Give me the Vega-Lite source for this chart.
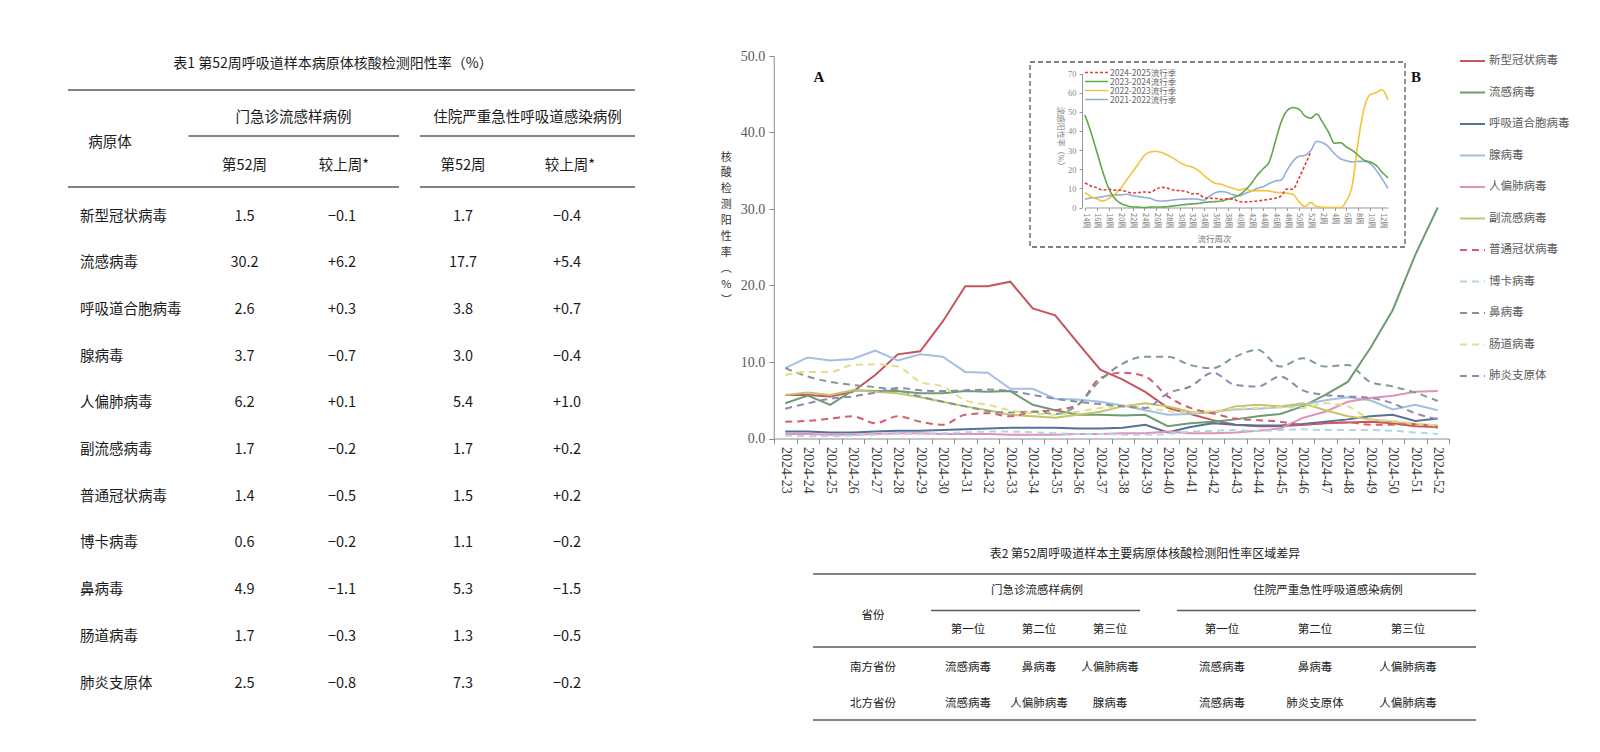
{
"$schema": "https://vega.github.io/schema/vega-lite/v6.json",
"width": 1600, "height": 752,
"autosize": {"type": "none"},
"padding": 0,
"background": "#ffffff",
"config": {"view": {"stroke": null}, "font": "Noto Sans CJK SC", "text": {"font": "Noto Sans CJK SC"}},
"datasets": {
"t1": [
{"pathogen":"新型冠状病毒","group":"门急诊流感样病例","measure":"第52周","value":"1.5"},{"pathogen":"新型冠状病毒","group":"门急诊流感样病例","measure":"较上周*","value":"−0.1"},{"pathogen":"新型冠状病毒","group":"住院严重急性呼吸道感染病例","measure":"第52周","value":"1.7"},{"pathogen":"新型冠状病毒","group":"住院严重急性呼吸道感染病例","measure":"较上周*","value":"−0.4"},
{"pathogen":"流感病毒","group":"门急诊流感样病例","measure":"第52周","value":"30.2"},{"pathogen":"流感病毒","group":"门急诊流感样病例","measure":"较上周*","value":"+6.2"},{"pathogen":"流感病毒","group":"住院严重急性呼吸道感染病例","measure":"第52周","value":"17.7"},{"pathogen":"流感病毒","group":"住院严重急性呼吸道感染病例","measure":"较上周*","value":"+5.4"},
{"pathogen":"呼吸道合胞病毒","group":"门急诊流感样病例","measure":"第52周","value":"2.6"},{"pathogen":"呼吸道合胞病毒","group":"门急诊流感样病例","measure":"较上周*","value":"+0.3"},{"pathogen":"呼吸道合胞病毒","group":"住院严重急性呼吸道感染病例","measure":"第52周","value":"3.8"},{"pathogen":"呼吸道合胞病毒","group":"住院严重急性呼吸道感染病例","measure":"较上周*","value":"+0.7"},
{"pathogen":"腺病毒","group":"门急诊流感样病例","measure":"第52周","value":"3.7"},{"pathogen":"腺病毒","group":"门急诊流感样病例","measure":"较上周*","value":"−0.7"},{"pathogen":"腺病毒","group":"住院严重急性呼吸道感染病例","measure":"第52周","value":"3.0"},{"pathogen":"腺病毒","group":"住院严重急性呼吸道感染病例","measure":"较上周*","value":"−0.4"},
{"pathogen":"人偏肺病毒","group":"门急诊流感样病例","measure":"第52周","value":"6.2"},{"pathogen":"人偏肺病毒","group":"门急诊流感样病例","measure":"较上周*","value":"+0.1"},{"pathogen":"人偏肺病毒","group":"住院严重急性呼吸道感染病例","measure":"第52周","value":"5.4"},{"pathogen":"人偏肺病毒","group":"住院严重急性呼吸道感染病例","measure":"较上周*","value":"+1.0"},
{"pathogen":"副流感病毒","group":"门急诊流感样病例","measure":"第52周","value":"1.7"},{"pathogen":"副流感病毒","group":"门急诊流感样病例","measure":"较上周*","value":"−0.2"},{"pathogen":"副流感病毒","group":"住院严重急性呼吸道感染病例","measure":"第52周","value":"1.7"},{"pathogen":"副流感病毒","group":"住院严重急性呼吸道感染病例","measure":"较上周*","value":"+0.2"},
{"pathogen":"普通冠状病毒","group":"门急诊流感样病例","measure":"第52周","value":"1.4"},{"pathogen":"普通冠状病毒","group":"门急诊流感样病例","measure":"较上周*","value":"−0.5"},{"pathogen":"普通冠状病毒","group":"住院严重急性呼吸道感染病例","measure":"第52周","value":"1.5"},{"pathogen":"普通冠状病毒","group":"住院严重急性呼吸道感染病例","measure":"较上周*","value":"+0.2"},
{"pathogen":"博卡病毒","group":"门急诊流感样病例","measure":"第52周","value":"0.6"},{"pathogen":"博卡病毒","group":"门急诊流感样病例","measure":"较上周*","value":"−0.2"},{"pathogen":"博卡病毒","group":"住院严重急性呼吸道感染病例","measure":"第52周","value":"1.1"},{"pathogen":"博卡病毒","group":"住院严重急性呼吸道感染病例","measure":"较上周*","value":"−0.2"},
{"pathogen":"鼻病毒","group":"门急诊流感样病例","measure":"第52周","value":"4.9"},{"pathogen":"鼻病毒","group":"门急诊流感样病例","measure":"较上周*","value":"−1.1"},{"pathogen":"鼻病毒","group":"住院严重急性呼吸道感染病例","measure":"第52周","value":"5.3"},{"pathogen":"鼻病毒","group":"住院严重急性呼吸道感染病例","measure":"较上周*","value":"−1.5"},
{"pathogen":"肠道病毒","group":"门急诊流感样病例","measure":"第52周","value":"1.7"},{"pathogen":"肠道病毒","group":"门急诊流感样病例","measure":"较上周*","value":"−0.3"},{"pathogen":"肠道病毒","group":"住院严重急性呼吸道感染病例","measure":"第52周","value":"1.3"},{"pathogen":"肠道病毒","group":"住院严重急性呼吸道感染病例","measure":"较上周*","value":"−0.5"},
{"pathogen":"肺炎支原体","group":"门急诊流感样病例","measure":"第52周","value":"2.5"},{"pathogen":"肺炎支原体","group":"门急诊流感样病例","measure":"较上周*","value":"−0.8"},{"pathogen":"肺炎支原体","group":"住院严重急性呼吸道感染病例","measure":"第52周","value":"7.3"},{"pathogen":"肺炎支原体","group":"住院严重急性呼吸道感染病例","measure":"较上周*","value":"−0.2"}
],
"t2": [
{"province":"南方省份","group":"门急诊流感样病例","rank":"第一位","pathogen":"流感病毒"},{"province":"南方省份","group":"门急诊流感样病例","rank":"第二位","pathogen":"鼻病毒"},{"province":"南方省份","group":"门急诊流感样病例","rank":"第三位","pathogen":"人偏肺病毒"},
{"province":"南方省份","group":"住院严重急性呼吸道感染病例","rank":"第一位","pathogen":"流感病毒"},{"province":"南方省份","group":"住院严重急性呼吸道感染病例","rank":"第二位","pathogen":"鼻病毒"},{"province":"南方省份","group":"住院严重急性呼吸道感染病例","rank":"第三位","pathogen":"人偏肺病毒"},
{"province":"北方省份","group":"门急诊流感样病例","rank":"第一位","pathogen":"流感病毒"},{"province":"北方省份","group":"门急诊流感样病例","rank":"第二位","pathogen":"人偏肺病毒"},{"province":"北方省份","group":"门急诊流感样病例","rank":"第三位","pathogen":"腺病毒"},
{"province":"北方省份","group":"住院严重急性呼吸道感染病例","rank":"第一位","pathogen":"流感病毒"},{"province":"北方省份","group":"住院严重急性呼吸道感染病例","rank":"第二位","pathogen":"肺炎支原体"},{"province":"北方省份","group":"住院严重急性呼吸道感染病例","rank":"第三位","pathogen":"人偏肺病毒"}
],
"main": [
{"week":"2024-23","pathogen":"新型冠状病毒","rate":5.7},{"week":"2024-24","pathogen":"新型冠状病毒","rate":5.7},{"week":"2024-25","pathogen":"新型冠状病毒","rate":5.5},{"week":"2024-26","pathogen":"新型冠状病毒","rate":6.1},{"week":"2024-27","pathogen":"新型冠状病毒","rate":8.3},{"week":"2024-28","pathogen":"新型冠状病毒","rate":11.0},{"week":"2024-29","pathogen":"新型冠状病毒","rate":11.4},{"week":"2024-30","pathogen":"新型冠状病毒","rate":15.3},{"week":"2024-31","pathogen":"新型冠状病毒","rate":19.9},{"week":"2024-32","pathogen":"新型冠状病毒","rate":19.9},{"week":"2024-33","pathogen":"新型冠状病毒","rate":20.5},{"week":"2024-34","pathogen":"新型冠状病毒","rate":17.0},{"week":"2024-35","pathogen":"新型冠状病毒","rate":16.1},{"week":"2024-36","pathogen":"新型冠状病毒","rate":12.5},{"week":"2024-37","pathogen":"新型冠状病毒","rate":9.0},{"week":"2024-38","pathogen":"新型冠状病毒","rate":7.7},{"week":"2024-39","pathogen":"新型冠状病毒","rate":6.1},{"week":"2024-40","pathogen":"新型冠状病毒","rate":4.0},{"week":"2024-41","pathogen":"新型冠状病毒","rate":3.2},{"week":"2024-42","pathogen":"新型冠状病毒","rate":2.4},{"week":"2024-43","pathogen":"新型冠状病毒","rate":1.8},{"week":"2024-44","pathogen":"新型冠状病毒","rate":1.6},{"week":"2024-45","pathogen":"新型冠状病毒","rate":1.6},{"week":"2024-46","pathogen":"新型冠状病毒","rate":1.8},{"week":"2024-47","pathogen":"新型冠状病毒","rate":2.0},{"week":"2024-48","pathogen":"新型冠状病毒","rate":2.1},{"week":"2024-49","pathogen":"新型冠状病毒","rate":2.2},{"week":"2024-50","pathogen":"新型冠状病毒","rate":2.0},{"week":"2024-51","pathogen":"新型冠状病毒","rate":1.6},{"week":"2024-52","pathogen":"新型冠状病毒","rate":1.5},
{"week":"2024-23","pathogen":"流感病毒","rate":4.6},{"week":"2024-24","pathogen":"流感病毒","rate":5.6},{"week":"2024-25","pathogen":"流感病毒","rate":4.4},{"week":"2024-26","pathogen":"流感病毒","rate":6.3},{"week":"2024-27","pathogen":"流感病毒","rate":6.2},{"week":"2024-28","pathogen":"流感病毒","rate":6.2},{"week":"2024-29","pathogen":"流感病毒","rate":5.9},{"week":"2024-30","pathogen":"流感病毒","rate":5.9},{"week":"2024-31","pathogen":"流感病毒","rate":6.2},{"week":"2024-32","pathogen":"流感病毒","rate":6.1},{"week":"2024-33","pathogen":"流感病毒","rate":6.2},{"week":"2024-34","pathogen":"流感病毒","rate":4.4},{"week":"2024-35","pathogen":"流感病毒","rate":3.7},{"week":"2024-36","pathogen":"流感病毒","rate":3.1},{"week":"2024-37","pathogen":"流感病毒","rate":3.1},{"week":"2024-38","pathogen":"流感病毒","rate":3.0},{"week":"2024-39","pathogen":"流感病毒","rate":3.1},{"week":"2024-40","pathogen":"流感病毒","rate":1.6},{"week":"2024-41","pathogen":"流感病毒","rate":2.0},{"week":"2024-42","pathogen":"流感病毒","rate":2.2},{"week":"2024-43","pathogen":"流感病毒","rate":2.5},{"week":"2024-44","pathogen":"流感病毒","rate":2.9},{"week":"2024-45","pathogen":"流感病毒","rate":3.2},{"week":"2024-46","pathogen":"流感病毒","rate":4.2},{"week":"2024-47","pathogen":"流感病毒","rate":5.7},{"week":"2024-48","pathogen":"流感病毒","rate":7.4},{"week":"2024-49","pathogen":"流感病毒","rate":11.8},{"week":"2024-50","pathogen":"流感病毒","rate":16.8},{"week":"2024-51","pathogen":"流感病毒","rate":24.0},{"week":"2024-52","pathogen":"流感病毒","rate":30.2},
{"week":"2024-23","pathogen":"呼吸道合胞病毒","rate":0.9},{"week":"2024-24","pathogen":"呼吸道合胞病毒","rate":0.9},{"week":"2024-25","pathogen":"呼吸道合胞病毒","rate":0.8},{"week":"2024-26","pathogen":"呼吸道合胞病毒","rate":0.8},{"week":"2024-27","pathogen":"呼吸道合胞病毒","rate":0.9},{"week":"2024-28","pathogen":"呼吸道合胞病毒","rate":1.0},{"week":"2024-29","pathogen":"呼吸道合胞病毒","rate":1.0},{"week":"2024-30","pathogen":"呼吸道合胞病毒","rate":1.1},{"week":"2024-31","pathogen":"呼吸道合胞病毒","rate":1.2},{"week":"2024-32","pathogen":"呼吸道合胞病毒","rate":1.3},{"week":"2024-33","pathogen":"呼吸道合胞病毒","rate":1.4},{"week":"2024-34","pathogen":"呼吸道合胞病毒","rate":1.4},{"week":"2024-35","pathogen":"呼吸道合胞病毒","rate":1.4},{"week":"2024-36","pathogen":"呼吸道合胞病毒","rate":1.3},{"week":"2024-37","pathogen":"呼吸道合胞病毒","rate":1.3},{"week":"2024-38","pathogen":"呼吸道合胞病毒","rate":1.4},{"week":"2024-39","pathogen":"呼吸道合胞病毒","rate":1.8},{"week":"2024-40","pathogen":"呼吸道合胞病毒","rate":0.8},{"week":"2024-41","pathogen":"呼吸道合胞病毒","rate":1.5},{"week":"2024-42","pathogen":"呼吸道合胞病毒","rate":2.0},{"week":"2024-43","pathogen":"呼吸道合胞病毒","rate":1.8},{"week":"2024-44","pathogen":"呼吸道合胞病毒","rate":1.7},{"week":"2024-45","pathogen":"呼吸道合胞病毒","rate":1.7},{"week":"2024-46","pathogen":"呼吸道合胞病毒","rate":1.9},{"week":"2024-47","pathogen":"呼吸道合胞病毒","rate":2.2},{"week":"2024-48","pathogen":"呼吸道合胞病毒","rate":2.5},{"week":"2024-49","pathogen":"呼吸道合胞病毒","rate":2.9},{"week":"2024-50","pathogen":"呼吸道合胞病毒","rate":3.1},{"week":"2024-51","pathogen":"呼吸道合胞病毒","rate":2.3},{"week":"2024-52","pathogen":"呼吸道合胞病毒","rate":2.6},
{"week":"2024-23","pathogen":"腺病毒","rate":9.2},{"week":"2024-24","pathogen":"腺病毒","rate":10.6},{"week":"2024-25","pathogen":"腺病毒","rate":10.2},{"week":"2024-26","pathogen":"腺病毒","rate":10.4},{"week":"2024-27","pathogen":"腺病毒","rate":11.5},{"week":"2024-28","pathogen":"腺病毒","rate":10.2},{"week":"2024-29","pathogen":"腺病毒","rate":11.0},{"week":"2024-30","pathogen":"腺病毒","rate":10.7},{"week":"2024-31","pathogen":"腺病毒","rate":8.7},{"week":"2024-32","pathogen":"腺病毒","rate":8.6},{"week":"2024-33","pathogen":"腺病毒","rate":6.5},{"week":"2024-34","pathogen":"腺病毒","rate":6.5},{"week":"2024-35","pathogen":"腺病毒","rate":5.2},{"week":"2024-36","pathogen":"腺病毒","rate":5.1},{"week":"2024-37","pathogen":"腺病毒","rate":4.8},{"week":"2024-38","pathogen":"腺病毒","rate":4.3},{"week":"2024-39","pathogen":"腺病毒","rate":3.7},{"week":"2024-40","pathogen":"腺病毒","rate":3.1},{"week":"2024-41","pathogen":"腺病毒","rate":3.2},{"week":"2024-42","pathogen":"腺病毒","rate":3.5},{"week":"2024-43","pathogen":"腺病毒","rate":3.8},{"week":"2024-44","pathogen":"腺病毒","rate":3.9},{"week":"2024-45","pathogen":"腺病毒","rate":4.1},{"week":"2024-46","pathogen":"腺病毒","rate":4.4},{"week":"2024-47","pathogen":"腺病毒","rate":5.0},{"week":"2024-48","pathogen":"腺病毒","rate":5.4},{"week":"2024-49","pathogen":"腺病毒","rate":5.0},{"week":"2024-50","pathogen":"腺病毒","rate":3.8},{"week":"2024-51","pathogen":"腺病毒","rate":4.4},{"week":"2024-52","pathogen":"腺病毒","rate":3.7},
{"week":"2024-23","pathogen":"人偏肺病毒","rate":0.6},{"week":"2024-24","pathogen":"人偏肺病毒","rate":0.6},{"week":"2024-25","pathogen":"人偏肺病毒","rate":0.5},{"week":"2024-26","pathogen":"人偏肺病毒","rate":0.5},{"week":"2024-27","pathogen":"人偏肺病毒","rate":0.6},{"week":"2024-28","pathogen":"人偏肺病毒","rate":0.7},{"week":"2024-29","pathogen":"人偏肺病毒","rate":0.7},{"week":"2024-30","pathogen":"人偏肺病毒","rate":0.6},{"week":"2024-31","pathogen":"人偏肺病毒","rate":0.6},{"week":"2024-32","pathogen":"人偏肺病毒","rate":0.6},{"week":"2024-33","pathogen":"人偏肺病毒","rate":0.5},{"week":"2024-34","pathogen":"人偏肺病毒","rate":0.5},{"week":"2024-35","pathogen":"人偏肺病毒","rate":0.5},{"week":"2024-36","pathogen":"人偏肺病毒","rate":0.6},{"week":"2024-37","pathogen":"人偏肺病毒","rate":0.6},{"week":"2024-38","pathogen":"人偏肺病毒","rate":0.7},{"week":"2024-39","pathogen":"人偏肺病毒","rate":0.7},{"week":"2024-40","pathogen":"人偏肺病毒","rate":0.9},{"week":"2024-41","pathogen":"人偏肺病毒","rate":0.7},{"week":"2024-42","pathogen":"人偏肺病毒","rate":0.7},{"week":"2024-43","pathogen":"人偏肺病毒","rate":0.8},{"week":"2024-44","pathogen":"人偏肺病毒","rate":1.0},{"week":"2024-45","pathogen":"人偏肺病毒","rate":1.3},{"week":"2024-46","pathogen":"人偏肺病毒","rate":2.7},{"week":"2024-47","pathogen":"人偏肺病毒","rate":3.5},{"week":"2024-48","pathogen":"人偏肺病毒","rate":4.8},{"week":"2024-49","pathogen":"人偏肺病毒","rate":5.3},{"week":"2024-50","pathogen":"人偏肺病毒","rate":5.6},{"week":"2024-51","pathogen":"人偏肺病毒","rate":6.1},{"week":"2024-52","pathogen":"人偏肺病毒","rate":6.2},
{"week":"2024-23","pathogen":"副流感病毒","rate":5.7},{"week":"2024-24","pathogen":"副流感病毒","rate":6.0},{"week":"2024-25","pathogen":"副流感病毒","rate":5.7},{"week":"2024-26","pathogen":"副流感病毒","rate":6.3},{"week":"2024-27","pathogen":"副流感病毒","rate":6.1},{"week":"2024-28","pathogen":"副流感病毒","rate":5.9},{"week":"2024-29","pathogen":"副流感病毒","rate":5.4},{"week":"2024-30","pathogen":"副流感病毒","rate":4.8},{"week":"2024-31","pathogen":"副流感病毒","rate":4.2},{"week":"2024-32","pathogen":"副流感病毒","rate":3.7},{"week":"2024-33","pathogen":"副流感病毒","rate":3.1},{"week":"2024-34","pathogen":"副流感病毒","rate":2.9},{"week":"2024-35","pathogen":"副流感病毒","rate":2.7},{"week":"2024-36","pathogen":"副流感病毒","rate":3.1},{"week":"2024-37","pathogen":"副流感病毒","rate":3.5},{"week":"2024-38","pathogen":"副流感病毒","rate":4.2},{"week":"2024-39","pathogen":"副流感病毒","rate":4.6},{"week":"2024-40","pathogen":"副流感病毒","rate":4.2},{"week":"2024-41","pathogen":"副流感病毒","rate":3.5},{"week":"2024-42","pathogen":"副流感病毒","rate":3.3},{"week":"2024-43","pathogen":"副流感病毒","rate":4.2},{"week":"2024-44","pathogen":"副流感病毒","rate":4.4},{"week":"2024-45","pathogen":"副流感病毒","rate":4.2},{"week":"2024-46","pathogen":"副流感病毒","rate":4.6},{"week":"2024-47","pathogen":"副流感病毒","rate":3.7},{"week":"2024-48","pathogen":"副流感病毒","rate":2.9},{"week":"2024-49","pathogen":"副流感病毒","rate":2.5},{"week":"2024-50","pathogen":"副流感病毒","rate":2.2},{"week":"2024-51","pathogen":"副流感病毒","rate":1.9},{"week":"2024-52","pathogen":"副流感病毒","rate":1.7},
{"week":"2024-23","pathogen":"普通冠状病毒","rate":2.2},{"week":"2024-24","pathogen":"普通冠状病毒","rate":2.3},{"week":"2024-25","pathogen":"普通冠状病毒","rate":2.6},{"week":"2024-26","pathogen":"普通冠状病毒","rate":2.9},{"week":"2024-27","pathogen":"普通冠状病毒","rate":2.0},{"week":"2024-28","pathogen":"普通冠状病毒","rate":2.9},{"week":"2024-29","pathogen":"普通冠状病毒","rate":2.2},{"week":"2024-30","pathogen":"普通冠状病毒","rate":1.8},{"week":"2024-31","pathogen":"普通冠状病毒","rate":3.1},{"week":"2024-32","pathogen":"普通冠状病毒","rate":3.3},{"week":"2024-33","pathogen":"普通冠状病毒","rate":2.9},{"week":"2024-34","pathogen":"普通冠状病毒","rate":3.5},{"week":"2024-35","pathogen":"普通冠状病毒","rate":3.7},{"week":"2024-36","pathogen":"普通冠状病毒","rate":4.4},{"week":"2024-37","pathogen":"普通冠状病毒","rate":7.9},{"week":"2024-38","pathogen":"普通冠状病毒","rate":8.6},{"week":"2024-39","pathogen":"普通冠状病毒","rate":8.1},{"week":"2024-40","pathogen":"普通冠状病毒","rate":5.5},{"week":"2024-41","pathogen":"普通冠状病毒","rate":4.0},{"week":"2024-42","pathogen":"普通冠状病毒","rate":3.3},{"week":"2024-43","pathogen":"普通冠状病毒","rate":2.6},{"week":"2024-44","pathogen":"普通冠状病毒","rate":2.4},{"week":"2024-45","pathogen":"普通冠状病毒","rate":2.2},{"week":"2024-46","pathogen":"普通冠状病毒","rate":1.8},{"week":"2024-47","pathogen":"普通冠状病毒","rate":2.0},{"week":"2024-48","pathogen":"普通冠状病毒","rate":2.1},{"week":"2024-49","pathogen":"普通冠状病毒","rate":1.8},{"week":"2024-50","pathogen":"普通冠状病毒","rate":1.8},{"week":"2024-51","pathogen":"普通冠状病毒","rate":1.9},{"week":"2024-52","pathogen":"普通冠状病毒","rate":1.4},
{"week":"2024-23","pathogen":"博卡病毒","rate":0.4},{"week":"2024-24","pathogen":"博卡病毒","rate":0.3},{"week":"2024-25","pathogen":"博卡病毒","rate":0.3},{"week":"2024-26","pathogen":"博卡病毒","rate":0.4},{"week":"2024-27","pathogen":"博卡病毒","rate":0.5},{"week":"2024-28","pathogen":"博卡病毒","rate":0.6},{"week":"2024-29","pathogen":"博卡病毒","rate":0.6},{"week":"2024-30","pathogen":"博卡病毒","rate":0.7},{"week":"2024-31","pathogen":"博卡病毒","rate":0.8},{"week":"2024-32","pathogen":"博卡病毒","rate":0.9},{"week":"2024-33","pathogen":"博卡病毒","rate":0.9},{"week":"2024-34","pathogen":"博卡病毒","rate":0.8},{"week":"2024-35","pathogen":"博卡病毒","rate":0.7},{"week":"2024-36","pathogen":"博卡病毒","rate":0.6},{"week":"2024-37","pathogen":"博卡病毒","rate":0.6},{"week":"2024-38","pathogen":"博卡病毒","rate":0.5},{"week":"2024-39","pathogen":"博卡病毒","rate":0.5},{"week":"2024-40","pathogen":"博卡病毒","rate":0.6},{"week":"2024-41","pathogen":"博卡病毒","rate":0.9},{"week":"2024-42","pathogen":"博卡病毒","rate":1.0},{"week":"2024-43","pathogen":"博卡病毒","rate":1.1},{"week":"2024-44","pathogen":"博卡病毒","rate":1.0},{"week":"2024-45","pathogen":"博卡病毒","rate":1.1},{"week":"2024-46","pathogen":"博卡病毒","rate":1.2},{"week":"2024-47","pathogen":"博卡病毒","rate":1.1},{"week":"2024-48","pathogen":"博卡病毒","rate":1.1},{"week":"2024-49","pathogen":"博卡病毒","rate":1.1},{"week":"2024-50","pathogen":"博卡病毒","rate":1.0},{"week":"2024-51","pathogen":"博卡病毒","rate":0.8},{"week":"2024-52","pathogen":"博卡病毒","rate":0.6},
{"week":"2024-23","pathogen":"鼻病毒","rate":9.2},{"week":"2024-24","pathogen":"鼻病毒","rate":8.1},{"week":"2024-25","pathogen":"鼻病毒","rate":7.4},{"week":"2024-26","pathogen":"鼻病毒","rate":7.0},{"week":"2024-27","pathogen":"鼻病毒","rate":6.7},{"week":"2024-28","pathogen":"鼻病毒","rate":6.3},{"week":"2024-29","pathogen":"鼻病毒","rate":5.5},{"week":"2024-30","pathogen":"鼻病毒","rate":4.8},{"week":"2024-31","pathogen":"鼻病毒","rate":4.2},{"week":"2024-32","pathogen":"鼻病毒","rate":3.6},{"week":"2024-33","pathogen":"鼻病毒","rate":3.4},{"week":"2024-34","pathogen":"鼻病毒","rate":3.5},{"week":"2024-35","pathogen":"鼻病毒","rate":3.2},{"week":"2024-36","pathogen":"鼻病毒","rate":4.4},{"week":"2024-37","pathogen":"鼻病毒","rate":7.6},{"week":"2024-38","pathogen":"鼻病毒","rate":9.8},{"week":"2024-39","pathogen":"鼻病毒","rate":10.7},{"week":"2024-40","pathogen":"鼻病毒","rate":10.7},{"week":"2024-41","pathogen":"鼻病毒","rate":9.6},{"week":"2024-42","pathogen":"鼻病毒","rate":9.2},{"week":"2024-43","pathogen":"鼻病毒","rate":10.7},{"week":"2024-44","pathogen":"鼻病毒","rate":11.6},{"week":"2024-45","pathogen":"鼻病毒","rate":9.4},{"week":"2024-46","pathogen":"鼻病毒","rate":10.5},{"week":"2024-47","pathogen":"鼻病毒","rate":9.4},{"week":"2024-48","pathogen":"鼻病毒","rate":9.6},{"week":"2024-49","pathogen":"鼻病毒","rate":7.4},{"week":"2024-50","pathogen":"鼻病毒","rate":6.8},{"week":"2024-51","pathogen":"鼻病毒","rate":6.0},{"week":"2024-52","pathogen":"鼻病毒","rate":4.9},
{"week":"2024-23","pathogen":"肠道病毒","rate":8.3},{"week":"2024-24","pathogen":"肠道病毒","rate":8.7},{"week":"2024-25","pathogen":"肠道病毒","rate":8.7},{"week":"2024-26","pathogen":"肠道病毒","rate":9.6},{"week":"2024-27","pathogen":"肠道病毒","rate":9.7},{"week":"2024-28","pathogen":"肠道病毒","rate":9.4},{"week":"2024-29","pathogen":"肠道病毒","rate":7.4},{"week":"2024-30","pathogen":"肠道病毒","rate":6.8},{"week":"2024-31","pathogen":"肠道病毒","rate":5.0},{"week":"2024-32","pathogen":"肠道病毒","rate":4.4},{"week":"2024-33","pathogen":"肠道病毒","rate":3.7},{"week":"2024-34","pathogen":"肠道病毒","rate":3.3},{"week":"2024-35","pathogen":"肠道病毒","rate":3.1},{"week":"2024-36","pathogen":"肠道病毒","rate":3.5},{"week":"2024-37","pathogen":"肠道病毒","rate":4.0},{"week":"2024-38","pathogen":"肠道病毒","rate":4.2},{"week":"2024-39","pathogen":"肠道病毒","rate":4.0},{"week":"2024-40","pathogen":"肠道病毒","rate":3.6},{"week":"2024-41","pathogen":"肠道病毒","rate":3.4},{"week":"2024-42","pathogen":"肠道病毒","rate":3.6},{"week":"2024-43","pathogen":"肠道病毒","rate":3.9},{"week":"2024-44","pathogen":"肠道病毒","rate":4.0},{"week":"2024-45","pathogen":"肠道病毒","rate":4.1},{"week":"2024-46","pathogen":"肠道病毒","rate":4.0},{"week":"2024-47","pathogen":"肠道病毒","rate":4.6},{"week":"2024-48","pathogen":"肠道病毒","rate":4.2},{"week":"2024-49","pathogen":"肠道病毒","rate":2.6},{"week":"2024-50","pathogen":"肠道病毒","rate":2.3},{"week":"2024-51","pathogen":"肠道病毒","rate":2.0},{"week":"2024-52","pathogen":"肠道病毒","rate":1.7},
{"week":"2024-23","pathogen":"肺炎支原体","rate":3.9},{"week":"2024-24","pathogen":"肺炎支原体","rate":4.6},{"week":"2024-25","pathogen":"肺炎支原体","rate":5.2},{"week":"2024-26","pathogen":"肺炎支原体","rate":5.5},{"week":"2024-27","pathogen":"肺炎支原体","rate":6.0},{"week":"2024-28","pathogen":"肺炎支原体","rate":6.6},{"week":"2024-29","pathogen":"肺炎支原体","rate":6.3},{"week":"2024-30","pathogen":"肺炎支原体","rate":6.2},{"week":"2024-31","pathogen":"肺炎支原体","rate":6.3},{"week":"2024-32","pathogen":"肺炎支原体","rate":6.4},{"week":"2024-33","pathogen":"肺炎支原体","rate":6.2},{"week":"2024-34","pathogen":"肺炎支原体","rate":5.7},{"week":"2024-35","pathogen":"肺炎支原体","rate":5.2},{"week":"2024-36","pathogen":"肺炎支原体","rate":4.8},{"week":"2024-37","pathogen":"肺炎支原体","rate":4.5},{"week":"2024-38","pathogen":"肺炎支原体","rate":4.2},{"week":"2024-39","pathogen":"肺炎支原体","rate":4.0},{"week":"2024-40","pathogen":"肺炎支原体","rate":5.9},{"week":"2024-41","pathogen":"肺炎支原体","rate":6.8},{"week":"2024-42","pathogen":"肺炎支原体","rate":8.6},{"week":"2024-43","pathogen":"肺炎支原体","rate":7.0},{"week":"2024-44","pathogen":"肺炎支原体","rate":6.8},{"week":"2024-45","pathogen":"肺炎支原体","rate":8.1},{"week":"2024-46","pathogen":"肺炎支原体","rate":6.3},{"week":"2024-47","pathogen":"肺炎支原体","rate":5.7},{"week":"2024-48","pathogen":"肺炎支原体","rate":5.5},{"week":"2024-49","pathogen":"肺炎支原体","rate":5.3},{"week":"2024-50","pathogen":"肺炎支原体","rate":4.6},{"week":"2024-51","pathogen":"肺炎支原体","rate":3.3},{"week":"2024-52","pathogen":"肺炎支原体","rate":2.5}
],
"inset": [
{"week":"14周","season":"2021-2022流行季","rate":4.3},{"week":"15周","season":"2021-2022流行季","rate":5.0},{"week":"16周","season":"2021-2022流行季","rate":5.2},{"week":"17周","season":"2021-2022流行季","rate":5.7},{"week":"18周","season":"2021-2022流行季","rate":6.2},{"week":"19周","season":"2021-2022流行季","rate":6.6},{"week":"20周","season":"2021-2022流行季","rate":6.6},{"week":"21周","season":"2021-2022流行季","rate":6.9},{"week":"22周","season":"2021-2022流行季","rate":6.2},{"week":"23周","season":"2021-2022流行季","rate":5.7},{"week":"24周","season":"2021-2022流行季","rate":5.2},{"week":"25周","season":"2021-2022流行季","rate":4.8},{"week":"26周","season":"2021-2022流行季","rate":3.6},{"week":"27周","season":"2021-2022流行季","rate":3.4},{"week":"28周","season":"2021-2022流行季","rate":3.6},{"week":"29周","season":"2021-2022流行季","rate":4.0},{"week":"30周","season":"2021-2022流行季","rate":4.3},{"week":"31周","season":"2021-2022流行季","rate":4.4},{"week":"32周","season":"2021-2022流行季","rate":4.5},{"week":"33周","season":"2021-2022流行季","rate":4.3},{"week":"34周","season":"2021-2022流行季","rate":3.8},{"week":"35周","season":"2021-2022流行季","rate":6.0},{"week":"36周","season":"2021-2022流行季","rate":7.8},{"week":"37周","season":"2021-2022流行季","rate":8.3},{"week":"38周","season":"2021-2022流行季","rate":7.8},{"week":"39周","season":"2021-2022流行季","rate":6.6},{"week":"40周","season":"2021-2022流行季","rate":6.2},{"week":"41周","season":"2021-2022流行季","rate":7.4},{"week":"42周","season":"2021-2022流行季","rate":8.6},{"week":"43周","season":"2021-2022流行季","rate":10.0},{"week":"44周","season":"2021-2022流行季","rate":10.9},{"week":"45周","season":"2021-2022流行季","rate":12.5},{"week":"46周","season":"2021-2022流行季","rate":13.8},{"week":"47周","season":"2021-2022流行季","rate":14.3},{"week":"48周","season":"2021-2022流行季","rate":19.5},{"week":"49周","season":"2021-2022流行季","rate":24.1},{"week":"50周","season":"2021-2022流行季","rate":26.7},{"week":"51周","season":"2021-2022流行季","rate":27.2},{"week":"52周","season":"2021-2022流行季","rate":29.8},{"week":"1周","season":"2021-2022流行季","rate":34.5},{"week":"2周","season":"2021-2022流行季","rate":33.8},{"week":"3周","season":"2021-2022流行季","rate":31.6},{"week":"4周","season":"2021-2022流行季","rate":28.1},{"week":"5周","season":"2021-2022流行季","rate":25.5},{"week":"6周","season":"2021-2022流行季","rate":24.5},{"week":"7周","season":"2021-2022流行季","rate":23.8},{"week":"8周","season":"2021-2022流行季","rate":24.1},{"week":"9周","season":"2021-2022流行季","rate":24.1},{"week":"10周","season":"2021-2022流行季","rate":22.9},{"week":"11周","season":"2021-2022流行季","rate":19.5},{"week":"12周","season":"2021-2022流行季","rate":15.0},{"week":"13周","season":"2021-2022流行季","rate":10.0},
{"week":"14周","season":"2022-2023流行季","rate":7.9},{"week":"15周","season":"2022-2023流行季","rate":5.7},{"week":"16周","season":"2022-2023流行季","rate":4.5},{"week":"17周","season":"2022-2023流行季","rate":3.4},{"week":"18周","season":"2022-2023流行季","rate":4.8},{"week":"19周","season":"2022-2023流行季","rate":6.9},{"week":"20周","season":"2022-2023流行季","rate":10.0},{"week":"21周","season":"2022-2023流行季","rate":14.3},{"week":"22周","season":"2022-2023流行季","rate":18.6},{"week":"23周","season":"2022-2023流行季","rate":22.9},{"week":"24周","season":"2022-2023流行季","rate":27.2},{"week":"25周","season":"2022-2023流行季","rate":29.0},{"week":"26周","season":"2022-2023流行季","rate":29.3},{"week":"27周","season":"2022-2023流行季","rate":28.6},{"week":"28周","season":"2022-2023流行季","rate":27.2},{"week":"29周","season":"2022-2023流行季","rate":25.5},{"week":"30周","season":"2022-2023流行季","rate":23.4},{"week":"31周","season":"2022-2023流行季","rate":22.0},{"week":"32周","season":"2022-2023流行季","rate":21.2},{"week":"33周","season":"2022-2023流行季","rate":19.5},{"week":"34周","season":"2022-2023流行季","rate":16.9},{"week":"35周","season":"2022-2023流行季","rate":14.3},{"week":"36周","season":"2022-2023流行季","rate":12.6},{"week":"37周","season":"2022-2023流行季","rate":12.1},{"week":"38周","season":"2022-2023流行季","rate":10.9},{"week":"39周","season":"2022-2023流行季","rate":10.0},{"week":"40周","season":"2022-2023流行季","rate":9.1},{"week":"41周","season":"2022-2023流行季","rate":10.0},{"week":"42周","season":"2022-2023流行季","rate":8.6},{"week":"43周","season":"2022-2023流行季","rate":8.8},{"week":"44周","season":"2022-2023流行季","rate":8.8},{"week":"45周","season":"2022-2023流行季","rate":8.6},{"week":"46周","season":"2022-2023流行季","rate":8.0},{"week":"47周","season":"2022-2023流行季","rate":7.8},{"week":"48周","season":"2022-2023流行季","rate":7.5},{"week":"49周","season":"2022-2023流行季","rate":6.9},{"week":"50周","season":"2022-2023流行季","rate":3.1},{"week":"51周","season":"2022-2023流行季","rate":0.5},{"week":"52周","season":"2022-2023流行季","rate":2.6},{"week":"1周","season":"2022-2023流行季","rate":0.5},{"week":"2周","season":"2022-2023流行季","rate":0.2},{"week":"3周","season":"2022-2023流行季","rate":0.0},{"week":"4周","season":"2022-2023流行季","rate":0.0},{"week":"5周","season":"2022-2023流行季","rate":0.0},{"week":"6周","season":"2022-2023流行季","rate":3.5},{"week":"7周","season":"2022-2023流行季","rate":12.0},{"week":"8周","season":"2022-2023流行季","rate":35.0},{"week":"9周","season":"2022-2023流行季","rate":52.0},{"week":"10周","season":"2022-2023流行季","rate":59.0},{"week":"11周","season":"2022-2023流行季","rate":60.0},{"week":"12周","season":"2022-2023流行季","rate":61.5},{"week":"13周","season":"2022-2023流行季","rate":56.0},
{"week":"14周","season":"2023-2024流行季","rate":48.3},{"week":"15周","season":"2023-2024流行季","rate":39.3},{"week":"16周","season":"2023-2024流行季","rate":29.0},{"week":"17周","season":"2023-2024流行季","rate":18.6},{"week":"18周","season":"2023-2024流行季","rate":10.0},{"week":"19周","season":"2023-2024流行季","rate":4.8},{"week":"20周","season":"2023-2024流行季","rate":2.2},{"week":"21周","season":"2023-2024流行季","rate":1.0},{"week":"22周","season":"2023-2024流行季","rate":0.3},{"week":"23周","season":"2023-2024流行季","rate":0.2},{"week":"24周","season":"2023-2024流行季","rate":0.0},{"week":"25周","season":"2023-2024流行季","rate":0.2},{"week":"26周","season":"2023-2024流行季","rate":0.3},{"week":"27周","season":"2023-2024流行季","rate":0.3},{"week":"28周","season":"2023-2024流行季","rate":0.5},{"week":"29周","season":"2023-2024流行季","rate":0.9},{"week":"30周","season":"2023-2024流行季","rate":1.2},{"week":"31周","season":"2023-2024流行季","rate":1.6},{"week":"32周","season":"2023-2024流行季","rate":1.9},{"week":"33周","season":"2023-2024流行季","rate":2.1},{"week":"34周","season":"2023-2024流行季","rate":2.6},{"week":"35周","season":"2023-2024流行季","rate":2.9},{"week":"36周","season":"2023-2024流行季","rate":3.1},{"week":"37周","season":"2023-2024流行季","rate":3.4},{"week":"38周","season":"2023-2024流行季","rate":4.3},{"week":"39周","season":"2023-2024流行季","rate":5.2},{"week":"40周","season":"2023-2024流行季","rate":6.6},{"week":"41周","season":"2023-2024流行季","rate":9.1},{"week":"42周","season":"2023-2024流行季","rate":12.6},{"week":"43周","season":"2023-2024流行季","rate":16.9},{"week":"44周","season":"2023-2024流行季","rate":20.3},{"week":"45周","season":"2023-2024流行季","rate":23.8},{"week":"46周","season":"2023-2024流行季","rate":34.0},{"week":"47周","season":"2023-2024流行季","rate":44.5},{"week":"48周","season":"2023-2024流行季","rate":50.5},{"week":"49周","season":"2023-2024流行季","rate":52.2},{"week":"50周","season":"2023-2024流行季","rate":51.4},{"week":"51周","season":"2023-2024流行季","rate":47.9},{"week":"52周","season":"2023-2024流行季","rate":46.7},{"week":"1周","season":"2023-2024流行季","rate":48.8},{"week":"2周","season":"2023-2024流行季","rate":44.5},{"week":"3周","season":"2023-2024流行季","rate":39.3},{"week":"4周","season":"2023-2024流行季","rate":33.6},{"week":"5周","season":"2023-2024流行季","rate":33.8},{"week":"6周","season":"2023-2024流行季","rate":31.6},{"week":"7周","season":"2023-2024流行季","rate":29.8},{"week":"8周","season":"2023-2024流行季","rate":27.2},{"week":"9周","season":"2023-2024流行季","rate":24.7},{"week":"10周","season":"2023-2024流行季","rate":23.8},{"week":"11周","season":"2023-2024流行季","rate":22.0},{"week":"12周","season":"2023-2024流行季","rate":18.5},{"week":"13周","season":"2023-2024流行季","rate":15.5},
{"week":"14周","season":"2024-2025流行季","rate":12.9},{"week":"15周","season":"2024-2025流行季","rate":11.2},{"week":"16周","season":"2024-2025流行季","rate":10.3},{"week":"17周","season":"2024-2025流行季","rate":9.1},{"week":"18周","season":"2024-2025流行季","rate":9.5},{"week":"19周","season":"2024-2025流行季","rate":9.1},{"week":"20周","season":"2024-2025流行季","rate":9.0},{"week":"21周","season":"2024-2025流行季","rate":8.3},{"week":"22周","season":"2024-2025流行季","rate":7.6},{"week":"23周","season":"2024-2025流行季","rate":7.8},{"week":"24周","season":"2024-2025流行季","rate":8.1},{"week":"25周","season":"2024-2025流行季","rate":7.9},{"week":"26周","season":"2024-2025流行季","rate":9.7},{"week":"27周","season":"2024-2025流行季","rate":10.5},{"week":"28周","season":"2024-2025流行季","rate":10.0},{"week":"29周","season":"2024-2025流行季","rate":9.1},{"week":"30周","season":"2024-2025流行季","rate":8.8},{"week":"31周","season":"2024-2025流行季","rate":8.4},{"week":"32周","season":"2024-2025流行季","rate":7.2},{"week":"33周","season":"2024-2025流行季","rate":7.2},{"week":"34周","season":"2024-2025流行季","rate":5.3},{"week":"35周","season":"2024-2025流行季","rate":4.8},{"week":"36周","season":"2024-2025流行季","rate":4.7},{"week":"37周","season":"2024-2025流行季","rate":4.3},{"week":"38周","season":"2024-2025流行季","rate":4.5},{"week":"39周","season":"2024-2025流行季","rate":4.3},{"week":"40周","season":"2024-2025流行季","rate":3.1},{"week":"41周","season":"2024-2025流行季","rate":2.9},{"week":"42周","season":"2024-2025流行季","rate":3.1},{"week":"43周","season":"2024-2025流行季","rate":3.4},{"week":"44周","season":"2024-2025流行季","rate":3.8},{"week":"45周","season":"2024-2025流行季","rate":4.3},{"week":"46周","season":"2024-2025流行季","rate":4.8},{"week":"47周","season":"2024-2025流行季","rate":6.0},{"week":"48周","season":"2024-2025流行季","rate":9.7},{"week":"49周","season":"2024-2025流行季","rate":9.5},{"week":"50周","season":"2024-2025流行季","rate":15.2},{"week":"51周","season":"2024-2025流行季","rate":22.0},{"week":"52周","season":"2024-2025流行季","rate":29.0}
]
},
"layer": [
{"data": {"values": [{"title": "表1 第52周呼吸道样本病原体核酸检测阳性率（%）", "level": "title"}]},
 "mark": {"type": "text", "fontSize": 14, "color": "#1a1a1a", "align": "center", "baseline": "middle"},
 "encoding": {"x": {"field": "title", "type": "nominal", "scale": {"type": "point", "range": [333, 333]}, "axis": null},
  "y": {"field": "level", "type": "nominal", "scale": {"type": "point", "domain": ["title"], "range": [63.5, 63.5]}, "axis": null},
  "text": {"field": "title"}}},
{"data": {"name": "t1"}, "transform": [{"aggregate": [{"op": "count", "as": "n"}], "groupby": ["group"]}],
 "mark": {"type": "text", "fontSize": 14.5, "color": "#1a1a1a", "align": "center", "baseline": "middle"},
 "encoding": {"x": {"field": "group", "type": "nominal", "scale": {"type": "point", "padding": 0, "domain": ["门急诊流感样病例","住院严重急性呼吸道感染病例"], "range": [293.5, 527.5]}, "axis": null},
  "y": {"datum": "group", "type": "nominal", "scale": {"type": "point", "domain": ["group"], "range": [117.5, 117.5]}, "axis": null},
  "text": {"field": "group"}}},
{"data": {"values": [{"header": "病原体"}]},
 "mark": {"type": "text", "fontSize": 14.5, "color": "#1a1a1a", "align": "center", "baseline": "middle"},
 "encoding": {"x": {"field": "header", "type": "nominal", "scale": {"type": "point", "range": [110, 110]}, "axis": null},
  "y": {"datum": "head", "type": "nominal", "scale": {"type": "point", "domain": ["head"], "range": [143, 143]}, "axis": null},
  "text": {"field": "header"}}},
{"data": {"name": "t1"}, "transform": [{"aggregate": [{"op": "count", "as": "n"}], "groupby": ["pathogen"]}],
 "mark": {"type": "text", "fontSize": 14.5, "color": "#1a1a1a", "align": "left", "baseline": "middle"},
 "encoding": {"x": {"datum": "病原体", "type": "nominal", "scale": {"type": "point", "range": [80, 80]}, "axis": null},
  "y": {"field": "pathogen", "type": "nominal", "scale": {"type": "point", "padding": 0, "domain": ["新型冠状病毒","流感病毒","呼吸道合胞病毒","腺病毒","人偏肺病毒","副流感病毒","普通冠状病毒","博卡病毒","鼻病毒","肠道病毒","肺炎支原体"], "range": [216.5, 683.5]}, "axis": null},
  "text": {"field": "pathogen"}}},
{"data": {"name": "t1"}, "transform": [{"filter": "datum.group === '门急诊流感样病例'"}, {"aggregate": [{"op": "count", "as": "n"}], "groupby": ["measure"]}],
 "mark": {"type": "text", "fontSize": 14.5, "color": "#1a1a1a", "align": "center", "baseline": "middle"},
 "encoding": {"x": {"field": "measure", "type": "nominal", "scale": {"type": "point", "padding": 0, "domain": ["第52周","较上周*"], "range": [244.5, 344]}, "axis": null},
  "y": {"datum": "sub", "type": "nominal", "scale": {"type": "point", "domain": ["sub"], "range": [165.5, 165.5]}, "axis": null},
  "text": {"field": "measure"}}},
{"data": {"name": "t1"}, "transform": [{"filter": "datum.group === '门急诊流感样病例'"}],
 "mark": {"type": "text", "fontSize": 14.5, "color": "#1a1a1a", "align": "center", "baseline": "middle"},
 "encoding": {"x": {"field": "measure", "type": "nominal", "scale": {"type": "point", "padding": 0, "domain": ["第52周","较上周*"], "range": [244.5, 342]}, "axis": null},
  "y": {"field": "pathogen", "type": "nominal", "scale": {"type": "point", "padding": 0, "domain": ["新型冠状病毒","流感病毒","呼吸道合胞病毒","腺病毒","人偏肺病毒","副流感病毒","普通冠状病毒","博卡病毒","鼻病毒","肠道病毒","肺炎支原体"], "range": [216.5, 683.5]}, "axis": null},
  "text": {"field": "value"}}},
{"data": {"name": "t1"}, "transform": [{"filter": "datum.group === '住院严重急性呼吸道感染病例'"}, {"aggregate": [{"op": "count", "as": "n"}], "groupby": ["measure"]}],
 "mark": {"type": "text", "fontSize": 14.5, "color": "#1a1a1a", "align": "center", "baseline": "middle"},
 "encoding": {"x": {"field": "measure", "type": "nominal", "scale": {"type": "point", "padding": 0, "domain": ["第52周","较上周*"], "range": [463, 570]}, "axis": null},
  "y": {"datum": "sub", "type": "nominal", "scale": {"type": "point", "domain": ["sub"], "range": [165.5, 165.5]}, "axis": null},
  "text": {"field": "measure"}}},
{"data": {"name": "t1"}, "transform": [{"filter": "datum.group === '住院严重急性呼吸道感染病例'"}],
 "mark": {"type": "text", "fontSize": 14.5, "color": "#1a1a1a", "align": "center", "baseline": "middle"},
 "encoding": {"x": {"field": "measure", "type": "nominal", "scale": {"type": "point", "padding": 0, "domain": ["第52周","较上周*"], "range": [463, 567]}, "axis": null},
  "y": {"field": "pathogen", "type": "nominal", "scale": {"type": "point", "padding": 0, "domain": ["新型冠状病毒","流感病毒","呼吸道合胞病毒","腺病毒","人偏肺病毒","副流感病毒","普通冠状病毒","博卡病毒","鼻病毒","肠道病毒","肺炎支原体"], "range": [216.5, 683.5]}, "axis": null},
  "text": {"field": "value"}}},
{"data": {"values": [{"line": "top"}]},
 "mark": {"type": "rule", "stroke": "#5a5a5a", "strokeWidth": 1.6},
 "encoding": {"x": {"datum": 0, "type": "quantitative", "scale": {"domain": [0, 1], "range": [68, 635]}, "axis": null}, "x2": {"datum": 1},
  "y": {"field": "line", "type": "nominal", "scale": {"type": "point", "domain": ["top"], "range": [90, 90]}, "axis": null}}},
{"data": {"values": [{"line": "mid"}]},
 "mark": {"type": "rule", "stroke": "#5a5a5a", "strokeWidth": 1.6},
 "encoding": {"x": {"datum": 0, "type": "quantitative", "scale": {"domain": [0, 1], "range": [188.5, 399]}, "axis": null}, "x2": {"datum": 1},
  "y": {"field": "line", "type": "nominal", "scale": {"type": "point", "domain": ["mid"], "range": [136, 136]}, "axis": null}}},
{"data": {"values": [{"line": "mid"}, {"line": "bottom"}]},
 "mark": {"type": "rule", "stroke": "#5a5a5a", "strokeWidth": 1.6},
 "encoding": {"x": {"datum": 0, "type": "quantitative", "scale": {"domain": [0, 1], "range": [420, 635]}, "axis": null}, "x2": {"datum": 1},
  "y": {"field": "line", "type": "nominal", "scale": {"type": "point", "padding": 0, "domain": ["mid","bottom"], "range": [136, 187]}, "axis": null}}},
{"data": {"values": [{"line": "bottom"}]},
 "mark": {"type": "rule", "stroke": "#5a5a5a", "strokeWidth": 1.6},
 "encoding": {"x": {"datum": 0, "type": "quantitative", "scale": {"domain": [0, 1], "range": [68, 399]}, "axis": null}, "x2": {"datum": 1},
  "y": {"field": "line", "type": "nominal", "scale": {"type": "point", "domain": ["bottom"], "range": [187, 187]}, "axis": null}}},

{"data": {"values": [{"title": "表2 第52周呼吸道样本主要病原体核酸检测阳性率区域差异", "level": "title"}]},
 "mark": {"type": "text", "fontSize": 12, "color": "#222222", "align": "center", "baseline": "middle"},
 "encoding": {"x": {"field": "title", "type": "nominal", "scale": {"type": "point", "range": [1145, 1145]}, "axis": null},
  "y": {"field": "level", "type": "nominal", "scale": {"type": "point", "padding": 0, "domain": ["title","top","group","mid","sub","hline"], "range": [554, 647]}, "axis": null},
  "text": {"field": "title"}}},
{"data": {"name": "t2"}, "transform": [{"aggregate": [{"op": "count", "as": "n"}], "groupby": ["group"]}],
 "mark": {"type": "text", "fontSize": 11.5, "color": "#222222", "align": "center", "baseline": "middle"},
 "encoding": {"x": {"field": "group", "type": "nominal", "scale": {"type": "point", "padding": 0, "domain": ["门急诊流感样病例","住院严重急性呼吸道感染病例"], "range": [1037, 1328]}, "axis": null},
  "y": {"datum": "group", "type": "nominal", "scale": {"type": "point", "padding": 0, "domain": ["title","top","group","mid","sub","hline"], "range": [554, 647]}, "axis": null},
  "text": {"field": "group"}}},
{"data": {"values": [{"header": "省份"}]},
 "mark": {"type": "text", "fontSize": 11.5, "color": "#222222", "align": "center", "baseline": "middle"},
 "encoding": {"x": {"field": "header", "type": "nominal", "scale": {"type": "point", "range": [873, 873]}, "axis": null},
  "y": {"datum": "head", "type": "nominal", "scale": {"type": "point", "domain": ["head"], "range": [616, 616]}, "axis": null},
  "text": {"field": "header"}}},
{"data": {"name": "t2"}, "transform": [{"aggregate": [{"op": "count", "as": "n"}], "groupby": ["province"]}],
 "mark": {"type": "text", "fontSize": 11.5, "color": "#222222", "align": "center", "baseline": "middle"},
 "encoding": {"x": {"datum": "省份", "type": "nominal", "scale": {"type": "point", "range": [873, 873]}, "axis": null},
  "y": {"field": "province", "type": "nominal", "scale": {"type": "point", "padding": 0, "domain": ["南方省份","北方省份"], "range": [667.5, 703.5]}, "axis": null},
  "text": {"field": "province"}}},
{"data": {"name": "t2"}, "transform": [{"filter": "datum.group === '门急诊流感样病例'"}, {"aggregate": [{"op": "count", "as": "n"}], "groupby": ["rank"]}],
 "mark": {"type": "text", "fontSize": 11.5, "color": "#222222", "align": "center", "baseline": "middle"},
 "encoding": {"x": {"field": "rank", "type": "nominal", "scale": {"type": "point", "padding": 0, "domain": ["第一位","第二位","第三位"], "range": [968, 1110]}, "axis": null},
  "y": {"datum": "sub", "type": "nominal", "scale": {"type": "point", "domain": ["sub"], "range": [630, 630]}, "axis": null},
  "text": {"field": "rank"}}},
{"data": {"name": "t2"}, "transform": [{"filter": "datum.group === '门急诊流感样病例'"}],
 "mark": {"type": "text", "fontSize": 11.5, "color": "#222222", "align": "center", "baseline": "middle"},
 "encoding": {"x": {"field": "rank", "type": "nominal", "scale": {"type": "point", "padding": 0, "domain": ["第一位","第二位","第三位"], "range": [968, 1110]}, "axis": null},
  "y": {"field": "province", "type": "nominal", "scale": {"type": "point", "padding": 0, "domain": ["南方省份","北方省份"], "range": [667.5, 703.5]}, "axis": null},
  "text": {"field": "pathogen"}}},
{"data": {"name": "t2"}, "transform": [{"filter": "datum.group === '住院严重急性呼吸道感染病例'"}, {"aggregate": [{"op": "count", "as": "n"}], "groupby": ["rank"]}],
 "mark": {"type": "text", "fontSize": 11.5, "color": "#222222", "align": "center", "baseline": "middle"},
 "encoding": {"x": {"field": "rank", "type": "nominal", "scale": {"type": "point", "padding": 0, "domain": ["第一位","第二位","第三位"], "range": [1222, 1408]}, "axis": null},
  "y": {"datum": "sub", "type": "nominal", "scale": {"type": "point", "domain": ["sub"], "range": [630, 630]}, "axis": null},
  "text": {"field": "rank"}}},
{"data": {"name": "t2"}, "transform": [{"filter": "datum.group === '住院严重急性呼吸道感染病例'"}],
 "mark": {"type": "text", "fontSize": 11.5, "color": "#222222", "align": "center", "baseline": "middle"},
 "encoding": {"x": {"field": "rank", "type": "nominal", "scale": {"type": "point", "padding": 0, "domain": ["第一位","第二位","第三位"], "range": [1222, 1408]}, "axis": null},
  "y": {"field": "province", "type": "nominal", "scale": {"type": "point", "padding": 0, "domain": ["南方省份","北方省份"], "range": [667.5, 703.5]}, "axis": null},
  "text": {"field": "pathogen"}}},
{"data": {"values": [{"line": "top"}, {"line": "hline"}, {"line": "bottom"}]},
 "mark": {"type": "rule", "stroke": "#5a5a5a", "strokeWidth": 1.4},
 "encoding": {"x": {"datum": 0, "type": "quantitative", "scale": {"domain": [0, 1], "range": [813, 1476]}, "axis": null}, "x2": {"datum": 1},
  "y": {"field": "line", "type": "nominal", "scale": {"type": "point", "padding": 0, "domain": ["top","hline","bottom"], "range": [574, 720]}, "axis": null}}},
{"data": {"values": [{"line": "mid"}]},
 "mark": {"type": "rule", "stroke": "#5a5a5a", "strokeWidth": 1.4},
 "encoding": {"x": {"datum": 0, "type": "quantitative", "scale": {"domain": [0, 1], "range": [931, 1140]}, "axis": null}, "x2": {"datum": 1},
  "y": {"field": "line", "type": "nominal", "scale": {"type": "point", "domain": ["mid"], "range": [610.5, 610.5]}, "axis": null}}},
{"data": {"values": [{"line": "mid"}]},
 "mark": {"type": "rule", "stroke": "#5a5a5a", "strokeWidth": 1.4},
 "encoding": {"x": {"datum": 0, "type": "quantitative", "scale": {"domain": [0, 1], "range": [1177, 1476]}, "axis": null}, "x2": {"datum": 1},
  "y": {"field": "line", "type": "nominal", "scale": {"type": "point", "domain": ["mid"], "range": [610.5, 610.5]}, "axis": null}}},

{"data": {"name": "main"}, "transform": [{"filter": {"field": "pathogen", "oneOf": ["新型冠状病毒","流感病毒","呼吸道合胞病毒","腺病毒","人偏肺病毒","副流感病毒"]}}],
 "mark": {"type": "line", "strokeWidth": 2},
 "encoding": {
  "x": {"field": "week", "type": "ordinal", "scale": {"type": "band", "paddingInner": 0, "paddingOuter": 0, "range": [774, 1449]},
   "axis": {"orient": "bottom", "offset": -313.5, "title": null, "labelAngle": 90, "tickBand": "extent", "labelFont": "Liberation Serif", "labelFontSize": 14, "labelColor": "#3a3a3a", "tickSize": 5, "tickColor": "#8c8c8c", "domainColor": "#8c8c8c", "labelPadding": 3}},
  "y": {"field": "rate", "type": "quantitative", "scale": {"domain": [0, 50], "range": [438.5, 56], "nice": false},
   "axis": {"orient": "left", "offset": -773.75, "values": [0, 10, 20, 30, 40, 50], "format": ".1f", "labelFont": "Liberation Serif", "labelFontSize": 14, "labelColor": "#595959", "tickSize": 5, "tickColor": "#8c8c8c", "domainColor": "#8c8c8c", "labelPadding": 4, "grid": false,
    "title": ["核","酸","检","测","阳","性","率","︵","%","︶"], "titleAngle": 0, "titleFontSize": 11, "titleFontWeight": "normal", "titleColor": "#333333", "titleLineHeight": 15.9, "titleX": -48, "titleY": 151, "titleAlign": "center", "titleBaseline": "top"}},
  "color": {"field": "pathogen", "type": "nominal", "legend": null, "scale": {"domain": ["新型冠状病毒","流感病毒","呼吸道合胞病毒","腺病毒","人偏肺病毒","副流感病毒","普通冠状病毒","博卡病毒","鼻病毒","肠道病毒","肺炎支原体"], "range": ["#c5545c","#6d9c72","#56709a","#a2c0e2","#e391b6","#c6c46a","#d25e6e","#b3d6e6","#7d9c90","#e2de8c","#8e8aac"]}}
 }},
{"data": {"name": "main"}, "transform": [{"filter": {"field": "pathogen", "oneOf": ["普通冠状病毒","博卡病毒","鼻病毒","肠道病毒","肺炎支原体"]}}],
 "mark": {"type": "line", "strokeWidth": 2, "strokeDash": [7, 5], "interpolate": "monotone"},
 "encoding": {
  "x": {"field": "week", "type": "ordinal", "scale": {"type": "band", "paddingInner": 0, "paddingOuter": 0, "range": [774, 1449]}, "axis": null},
  "y": {"field": "rate", "type": "quantitative", "scale": {"domain": [0, 50], "range": [438.5, 56], "nice": false}, "axis": null},
  "color": {"field": "pathogen", "type": "nominal", "legend": null, "scale": {"domain": ["新型冠状病毒","流感病毒","呼吸道合胞病毒","腺病毒","人偏肺病毒","副流感病毒","普通冠状病毒","博卡病毒","鼻病毒","肠道病毒","肺炎支原体"], "range": ["#c5545c","#6d9c72","#56709a","#a2c0e2","#e391b6","#c6c46a","#d25e6e","#b3d6e6","#7d9c90","#e2de8c","#8e8aac"]}}
 }},
{"data": {"name": "main"}, "transform": [{"aggregate": [{"op": "count", "as": "n"}], "groupby": ["pathogen"]}],
 "mark": {"type": "rule", "strokeWidth": 2},
 "encoding": {
  "x": {"datum": 0, "type": "quantitative", "scale": {"domain": [0, 1], "range": [1460, 1485]}, "axis": null}, "x2": {"datum": 1},
  "y": {"field": "pathogen", "type": "nominal", "scale": {"type": "point", "padding": 0, "domain": ["新型冠状病毒","流感病毒","呼吸道合胞病毒","腺病毒","人偏肺病毒","副流感病毒","普通冠状病毒","博卡病毒","鼻病毒","肠道病毒","肺炎支原体"], "range": [61, 376]}, "axis": null},
  "color": {"field": "pathogen", "type": "nominal", "legend": null, "scale": {"domain": ["新型冠状病毒","流感病毒","呼吸道合胞病毒","腺病毒","人偏肺病毒","副流感病毒","普通冠状病毒","博卡病毒","鼻病毒","肠道病毒","肺炎支原体"], "range": ["#c5545c","#6d9c72","#56709a","#a2c0e2","#e391b6","#c6c46a","#d25e6e","#b3d6e6","#7d9c90","#e2de8c","#8e8aac"]}},
  "strokeDash": {"field": "pathogen", "type": "nominal", "legend": null, "scale": {"domain": ["新型冠状病毒","流感病毒","呼吸道合胞病毒","腺病毒","人偏肺病毒","副流感病毒","普通冠状病毒","博卡病毒","鼻病毒","肠道病毒","肺炎支原体"], "range": [[1,0],[1,0],[1,0],[1,0],[1,0],[1,0],[7,5],[7,5],[7,5],[7,5],[7,5]]}}
 }},
{"data": {"name": "main"}, "transform": [{"aggregate": [{"op": "count", "as": "n"}], "groupby": ["pathogen"]}],
 "mark": {"type": "text", "fontSize": 11.5, "color": "#5a5a5a", "align": "left", "baseline": "middle"},
 "encoding": {
  "x": {"datum": 0, "type": "quantitative", "scale": {"domain": [0, 1], "range": [1489, 1490]}, "axis": null},
  "y": {"field": "pathogen", "type": "nominal", "scale": {"type": "point", "padding": 0, "domain": ["新型冠状病毒","流感病毒","呼吸道合胞病毒","腺病毒","人偏肺病毒","副流感病毒","普通冠状病毒","博卡病毒","鼻病毒","肠道病毒","肺炎支原体"], "range": [61, 376]}, "axis": null},
  "text": {"field": "pathogen"}
 }},
{"data": {"values": [{"panel": "A"}, {"panel": "B"}]},
 "mark": {"type": "text", "font": "Liberation Serif", "fontWeight": "bold", "fontSize": 15, "color": "#111111", "align": "center", "baseline": "middle"},
 "encoding": {
  "x": {"field": "panel", "type": "nominal", "scale": {"type": "point", "padding": 0, "range": [819, 1416]}, "axis": null},
  "y": {"field": "panel", "type": "nominal", "scale": {"type": "point", "range": [77, 77]}, "axis": null},
  "text": {"field": "panel"}
 }},
{"data": {"values": [{"frame": "B"}]},
 "mark": {"type": "rect", "fillOpacity": 0, "stroke": "#5a5a5a", "strokeWidth": 1.3, "strokeDash": [5, 3]},
 "encoding": {
  "x": {"datum": 0, "type": "quantitative", "scale": {"domain": [0, 1], "range": [1030, 1405]}, "axis": null}, "x2": {"datum": 1},
  "y": {"datum": 0, "type": "quantitative", "scale": {"domain": [0, 1], "range": [62, 247]}, "axis": null}, "y2": {"datum": 1}
 }},
{"data": {"name": "inset"},
 "mark": {"type": "line", "strokeWidth": 1.6, "interpolate": "monotone"},
 "encoding": {
  "x": {"field": "week", "type": "ordinal", "scale": {"type": "point", "padding": 0, "range": [1085, 1388], "domain": ["14周","15周","16周","17周","18周","19周","20周","21周","22周","23周","24周","25周","26周","27周","28周","29周","30周","31周","32周","33周","34周","35周","36周","37周","38周","39周","40周","41周","42周","43周","44周","45周","46周","47周","48周","49周","50周","51周","52周","1周","2周","3周","4周","5周","6周","7周","8周","9周","10周","11周","12周","13周"]},
   "axis": {"orient": "bottom", "offset": -544.5, "values": ["14周","16周","18周","20周","22周","24周","26周","28周","30周","32周","34周","36周","38周","40周","42周","44周","46周","48周","50周","52周","2周","4周","6周","8周","10周","12周"], "labelAngle": 90, "labelFontSize": 7.5, "labelColor": "#777777", "tickSize": 3, "tickColor": "#999999", "domainColor": "#999999", "labelPadding": 2,
    "title": "流行周次", "titleFontSize": 8.5, "titleFontWeight": "normal", "titleColor": "#777777", "titleX": 1214, "titleY": 31, "titleAlign": "center", "titleBaseline": "middle"}},
  "y": {"field": "rate", "type": "quantitative", "scale": {"domain": [0, 70], "range": [207.5, 73.5], "nice": false},
   "axis": {"orient": "left", "offset": -1082, "values": [0, 10, 20, 30, 40, 50, 60, 70], "labelFont": "Liberation Serif", "labelFontSize": 8.5, "labelColor": "#888888", "tickSize": 3, "tickColor": "#999999", "domainColor": "#999999", "labelPadding": 3, "grid": false,
    "title": "流感阳性率（%）", "titleAngle": 90, "titleFontSize": 8, "titleFontWeight": "normal", "titleColor": "#888888", "titleX": -23, "titleY": 138, "titleAlign": "center", "titleBaseline": "middle"}},
  "color": {"field": "season", "type": "nominal", "legend": null, "scale": {"domain": ["2024-2025流行季","2023-2024流行季","2022-2023流行季","2021-2022流行季"], "range": ["#e0403a","#5fa84a","#f2c43a","#93acd9"]}},
  "strokeDash": {"field": "season", "type": "nominal", "legend": null, "scale": {"domain": ["2024-2025流行季","2023-2024流行季","2022-2023流行季","2021-2022流行季"], "range": [[3,2],[1,0],[1,0],[1,0]]}}
 }},
{"data": {"name": "inset"}, "transform": [{"aggregate": [{"op": "count", "as": "n"}], "groupby": ["season"]}],
 "mark": {"type": "rule", "strokeWidth": 1.6},
 "encoding": {
  "x": {"datum": 0, "type": "quantitative", "scale": {"domain": [0, 1], "range": [1085, 1108]}, "axis": null}, "x2": {"datum": 1},
  "y": {"field": "season", "type": "nominal", "scale": {"type": "point", "padding": 0, "domain": ["2024-2025流行季","2023-2024流行季","2022-2023流行季","2021-2022流行季"], "range": [72.5, 99.5]}, "axis": null},
  "color": {"field": "season", "type": "nominal", "legend": null, "scale": {"domain": ["2024-2025流行季","2023-2024流行季","2022-2023流行季","2021-2022流行季"], "range": ["#e0403a","#5fa84a","#f2c43a","#93acd9"]}},
  "strokeDash": {"field": "season", "type": "nominal", "legend": null, "scale": {"domain": ["2024-2025流行季","2023-2024流行季","2022-2023流行季","2021-2022流行季"], "range": [[3,2],[1,0],[1,0],[1,0]]}}
 }},
{"data": {"name": "inset"}, "transform": [{"aggregate": [{"op": "count", "as": "n"}], "groupby": ["season"]}],
 "mark": {"type": "text", "fontSize": 8.5, "color": "#666666", "align": "left", "baseline": "middle"},
 "encoding": {
  "x": {"datum": 0, "type": "quantitative", "scale": {"domain": [0, 1], "range": [1110, 1111]}, "axis": null},
  "y": {"field": "season", "type": "nominal", "scale": {"type": "point", "padding": 0, "domain": ["2024-2025流行季","2023-2024流行季","2022-2023流行季","2021-2022流行季"], "range": [72.5, 99.5]}, "axis": null},
  "text": {"field": "season"}
 }}
],
"resolve": {"scale": {"x": "independent", "y": "independent", "color": "independent", "strokeDash": "independent"}, "axis": {"x": "independent", "y": "independent"}, "legend": {"color": "independent", "strokeDash": "independent"}}
}
